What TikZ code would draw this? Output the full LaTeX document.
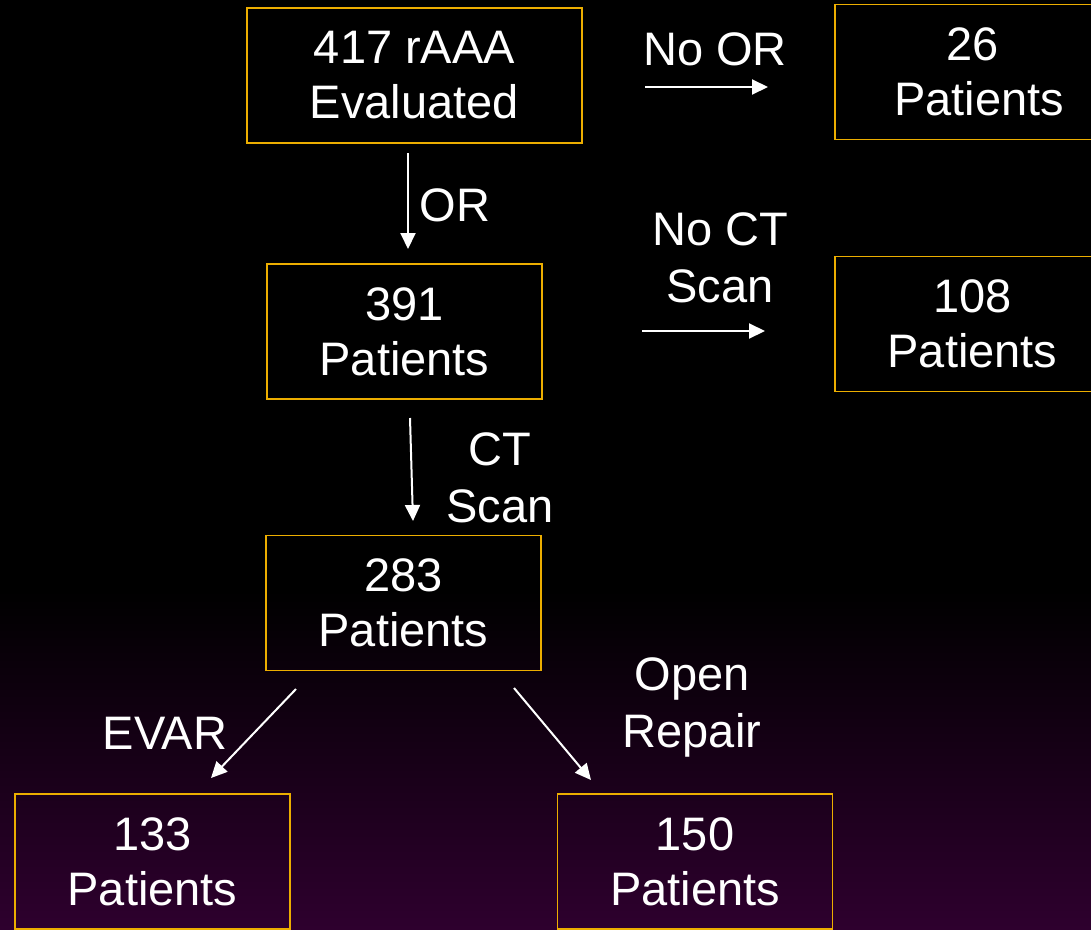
\documentclass[tikz,border=0pt]{standalone}
\usepackage{fontspec}
\setmainfont{Liberation Sans}
\usetikzlibrary{arrows.meta}
\definecolor{gold}{RGB}{236,174,0}
\definecolor{purp}{RGB}{46,0,46}
\tikzset{
  box/.style={draw=gold, line width=1.8pt, minimum width=275pt, minimum height=135pt, inner sep=0pt, align=center, text=white, font=\fontsize{47}{55}\selectfont},
  lbl/.style={inner sep=0pt, align=center, text=white, font=\fontsize{47}{57}\selectfont},
  arr/.style={draw=white, line width=2pt, -{Triangle[length=16pt,width=15pt]}}
}
\begin{document}
\begin{tikzpicture}[x=1pt,y=-1pt]
\useasboundingbox (0,0) rectangle (1091,929);
\fill[black] (0,0) rectangle (1091,929);
\shade[top color=black,bottom color=purp] (0,590) rectangle (1091,929);

\node[box, minimum width=335pt] (n417) at (414.5,75.5) {417 rAAA\\Evaluated};
\node[box] (n26) at (972.5,72) {26\\\hspace*{13pt}Patients};
\node[box] (n391) at (404.5,331.5) {391\\Patients};
\node[box] (n108) at (972.5,324) {108\\Patients};
\node[box] (n283) at (403.5,603) {283\\Patients};
\node[box] (n133) at (152.5,861.5) {133\\Patients};
\node[box] (n150) at (695,861.5) {150\\Patients};

\node[lbl] (lnoor) at (715,49) {No OR};
\node[lbl] (lor) at (455,205) {OR};
\node[lbl] (lnoct) at (720,258) {No CT\\Scan};
\node[lbl] (lct) at (500,478) {CT\\Scan};
\node[lbl] (lopen) at (692,707) {Open\\Repair};
\node[lbl] (levar) at (165,733) {EVAR};

\coordinate (a1s) at (645,87);  \coordinate (a1e) at (768,87);
\coordinate (a2s) at (408,153); \coordinate (a2e) at (408,249);
\coordinate (a3s) at (642,331); \coordinate (a3e) at (765,331);
\coordinate (a4s) at (410,418); \coordinate (a4e) at (413,521);
\coordinate (a5s) at (296,689); \coordinate (a5e) at (211,778);
\coordinate (a6s) at (514,688); \coordinate (a6e) at (591,780);

\draw[arr] (a1s) -- (a1e);
\draw[arr] (a2s) -- (a2e);
\draw[arr] (a3s) -- (a3e);
\draw[arr] (a4s) -- (a4e);
\draw[arr] (a5s) -- (a5e);
\draw[arr] (a6s) -- (a6e);
\end{tikzpicture}
\end{document}
